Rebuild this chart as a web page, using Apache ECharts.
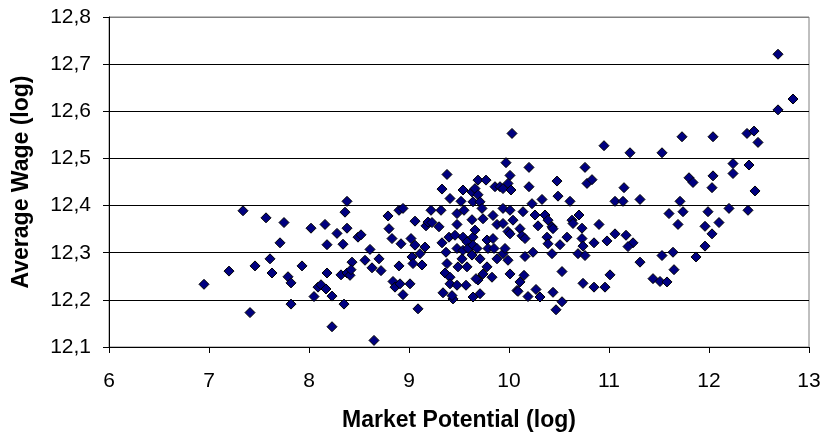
<!DOCTYPE html>
<html>
<head>
<meta charset="utf-8">
<script src="https://cdn.jsdelivr.net/npm/echarts@6/dist/echarts.min.js"></script>
<style>
  html, body { margin: 0; padding: 0; background: #fff; }
  #chart { width: 824px; height: 441px; }
</style>
</head>
<body>
<div id="chart"></div>
<script>
// market potential (log) per region
var marketPotential = [
  6.95, 7.20, 7.34, 7.41, 7.46, 7.57, 7.61, 7.63, 7.75, 7.71, 7.79, 7.82, 7.82, 7.93, 8.02, 8.05, 8.09, 8.12,
  8.16, 8.18, 8.17, 8.18, 8.23, 8.23, 8.28, 8.34, 8.38, 8.36, 8.38, 8.32, 8.35, 8.38, 8.41, 8.43, 8.42, 8.49,
  8.65, 8.52, 8.61, 8.56, 8.70, 8.63, 8.72, 8.79, 8.80, 8.83, 8.90, 8.94, 8.92, 8.90, 8.84, 8.86, 8.91, 9.01,
  8.94, 9.09, 9.06, 9.02, 9.06, 9.03, 9.11, 9.16, 9.04, 9.13, 9.17, 9.22, 9.19, 9.23, 9.30, 9.32, 9.33, 9.38,
  9.41, 9.33, 9.40, 9.37, 9.38, 9.36, 9.41, 9.41, 9.34, 9.44, 9.43, 9.46, 9.48, 9.48, 9.52, 9.54, 9.54, 9.55,
  9.48, 9.49, 9.53, 9.54, 9.58, 9.59, 9.58, 9.57, 9.63, 9.64, 9.66, 9.69, 9.69, 9.71, 9.63, 9.64, 9.66, 9.64,
  9.63, 9.68, 9.71, 9.73, 9.74, 9.77, 9.78, 9.79, 9.78, 9.83, 9.86, 9.91, 9.94, 10.01, 9.97, 9.99, 10.02, 9.84,
  9.94, 9.88, 9.94, 10.01, 9.99, 10.04, 9.85, 9.88, 9.94, 9.99, 9.96, 10.01, 10.08, 9.69, 9.67, 9.71, 9.64, 9.74,
  9.84, 9.48,
  10.03, 10.95, 11.21, 11.53, 11.73, 10.20, 10.76, 10.20, 10.48, 10.49, 10.78, 10.83, 11.15, 10.33, 10.23, 10.61,
  11.06, 11.14, 11.31, 11.71, 10.14, 10.26, 10.36, 10.29, 10.39, 10.43, 10.44, 10.63, 10.70, 10.64, 10.73, 10.90,
  11.06, 11.17, 11.24, 11.19, 10.98, 10.85, 10.73, 10.74, 10.69, 10.76, 10.58, 10.51, 10.38, 10.39, 10.43, 10.11,
  10.13, 10.16, 10.01, 10.24, 10.16, 11.31, 11.53, 11.64, 11.65, 10.15, 10.11, 10.53, 10.09, 10.19, 10.27, 10.31,
  10.44, 10.53, 10.47, 10.74, 10.85, 10.96, 11.01, 11.44, 11.51, 11.58,
  12.69, 12.84, 12.69, 12.04, 12.38, 12.45, 12.49, 12.24, 12.24, 12.40, 11.80, 11.84, 12.04, 12.03, 12.46, 11.60,
  11.74, 11.69, 11.99, 11.96, 12.03, 12.10, 12.20, 12.39, 11.96, 11.87
];

// average wage (log), same order
var averageWage = [
  12.233, 12.261, 12.389, 12.173, 12.272, 12.374, 12.287, 12.257, 12.364, 12.321, 12.249, 12.236, 12.191, 12.272, 12.352, 12.207, 12.227, 12.232,
  12.360, 12.317, 12.223, 12.257, 12.208, 12.143, 12.341, 12.318, 12.409, 12.386, 12.352, 12.253, 12.191, 12.257, 12.252, 12.280, 12.264, 12.333,
  12.114, 12.338, 12.307, 12.284, 12.287, 12.268, 12.262, 12.378, 12.351, 12.330, 12.390, 12.394, 12.319, 12.272, 12.239, 12.227, 12.234, 12.234,
  12.211, 12.181, 12.367, 12.330, 12.316, 12.291, 12.298, 12.312, 12.277, 12.274, 12.357, 12.390, 12.365, 12.364, 12.355, 12.390, 12.435, 12.466,
  12.415, 12.321, 12.333, 12.301, 12.277, 12.257, 12.248, 12.234, 12.215, 12.202, 12.209, 12.337, 12.383, 12.360, 12.409, 12.433, 12.333, 12.390,
  12.309, 12.270, 12.287, 12.305, 12.323, 12.309, 12.270, 12.231, 12.429, 12.408, 12.436, 12.454, 12.423, 12.408, 12.370, 12.333, 12.348, 12.316,
  12.295, 12.309, 12.287, 12.394, 12.372, 12.454, 12.327, 12.309, 12.270, 12.248, 12.440, 12.440, 12.436, 12.464, 12.491, 12.447, 12.433, 12.379,
  12.394, 12.360, 12.362, 12.390, 12.345, 12.369, 12.309, 12.287, 12.298, 12.284, 12.309, 12.255, 12.220, 12.242, 12.245, 12.213, 12.206, 12.255,
  12.330, 12.231,
  12.553, 12.527, 12.512, 12.512, 12.546, 12.481, 12.481, 12.440, 12.452, 12.420, 12.447, 12.455, 12.438, 12.413, 12.404, 12.409,
  12.409, 12.409, 12.413, 12.409, 12.387, 12.380, 12.380, 12.357, 12.369, 12.355, 12.351, 12.369, 12.380, 12.362, 12.352, 12.360,
  12.340, 12.337, 12.321, 12.313, 12.325, 12.321, 12.330, 12.314, 12.298, 12.294, 12.333, 12.317, 12.333, 12.319, 12.298, 12.351,
  12.336, 12.330, 12.340, 12.301, 12.292, 12.280, 12.294, 12.301, 12.264, 12.252, 12.238, 12.260, 12.218, 12.207, 12.222, 12.206,
  12.216, 12.196, 12.179, 12.235, 12.227, 12.227, 12.253, 12.245, 12.239, 12.238,
  12.721, 12.626, 12.603, 12.546, 12.553, 12.558, 12.534, 12.489, 12.468, 12.486, 12.459, 12.449, 12.463, 12.438, 12.431, 12.383,
  12.387, 12.360, 12.387, 12.356, 12.340, 12.364, 12.394, 12.390, 12.314, 12.291
];

var points = marketPotential.map(function (x, i) { return [x, averageWage[i]]; });

var chart = echarts.init(document.getElementById('chart'), null, { renderer: 'canvas' });

var font = 'Liberation Sans, Arial, sans-serif';

chart.setOption({
  animation: false,
  backgroundColor: '#fff',
  grid: {
    left: 109, right: 15, top: 17, bottom: 94,
    show: true, borderColor: '#808080', borderWidth: 1
  },
  xAxis: {
    type: 'value',
    min: 6, max: 13, interval: 1,
    name: 'Market Potential (log)',
    nameLocation: 'middle',
    nameGap: 62,
    nameTextStyle: { fontFamily: font, fontSize: 23, fontWeight: 'bold', color: '#000' },
    axisLine: { show: true, onZero: false, lineStyle: { color: '#000', width: 1 } },
    axisTick: { show: true, inside: false, length: 6, lineStyle: { color: '#000' } },
    axisLabel: { fontFamily: font, fontSize: 21, color: '#000', margin: 24 },
    splitLine: { show: false }
  },
  yAxis: {
    type: 'value',
    min: 12.1, max: 12.8, interval: 0.1,
    name: 'Average Wage (log)',
    nameLocation: 'middle',
    nameGap: 76,
    nameRotate: 90,
    nameTextStyle: { fontFamily: font, fontSize: 23, fontWeight: 'bold', color: '#000' },
    axisLine: { show: true, onZero: false, lineStyle: { color: '#000', width: 1 } },
    axisTick: { show: true, inside: false, length: 6, lineStyle: { color: '#000' } },
    axisLabel: {
      fontFamily: font, fontSize: 21, color: '#000', margin: 18,
      formatter: function (v) { return v.toFixed(1).replace('.', ','); }
    },
    splitLine: {
      show: true,
      lineStyle: { color: ['#000', '#000', '#000', '#000', '#000', '#000', '#000', '#808080'], width: 1 }
    }
  },
  series: [{
    type: 'scatter',
    symbol: 'diamond',
    symbolSize: 10,
    data: points,
    itemStyle: { color: '#000080', borderColor: '#000', borderWidth: 1, opacity: 1 }
  }]
});
</script>
</body>
</html>
